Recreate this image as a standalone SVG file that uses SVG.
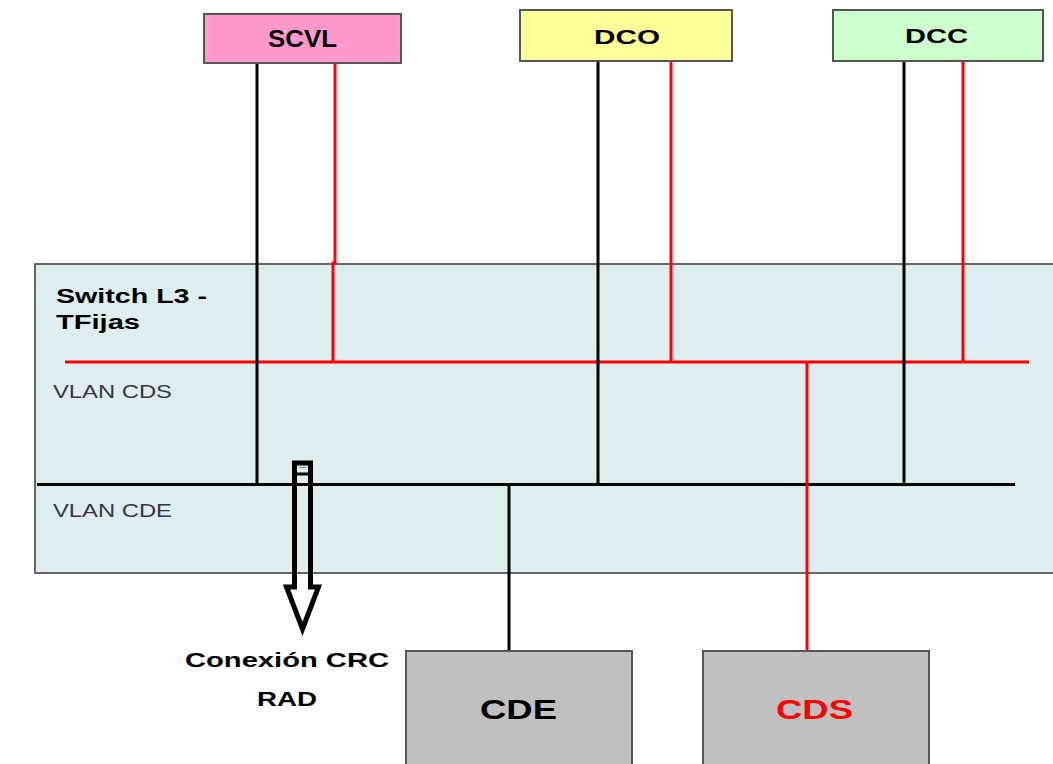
<svg xmlns="http://www.w3.org/2000/svg" width="1053" height="764" viewBox="0 0 1053 764">
<style>
.box{stroke:#555;stroke-width:2}
.t{font-family:"Liberation Sans",Arial,sans-serif;font-weight:bold;fill:#000}
.v{font-family:"Liberation Sans",Arial,sans-serif;font-size:18px;fill:#3a3448}
.blk{stroke:#000;stroke-width:3;fill:none}
.red{stroke:#f00;stroke-width:3;fill:none}
</style>
<rect width="1053" height="764" fill="#fff"/>
<g id="switch">
<rect x="35" y="264" width="1030" height="309" fill="#ddedf0" stroke="#666" stroke-width="2"/>
<text class="t" x="56" y="303" font-size="20" textLength="151" lengthAdjust="spacingAndGlyphs">Switch L3 -</text>
<text class="t" x="56" y="329" font-size="20" textLength="84" lengthAdjust="spacingAndGlyphs">TFijas</text>
<text class="v" x="53" y="398" textLength="119" lengthAdjust="spacingAndGlyphs">VLAN CDS</text>
<text class="v" x="53" y="517" textLength="119" lengthAdjust="spacingAndGlyphs">VLAN CDE</text>
</g>
<g id="connectors">
<line class="red" x1="65" y1="362" x2="1029" y2="362" stroke-width="4"/>
<line class="blk" x1="37" y1="484.5" x2="1015" y2="484.5" stroke-width="4"/>
<line class="blk" x1="257" y1="63" x2="257" y2="484"/>
<polyline class="red" points="335,63 335,263 333,263 333,362"/>
<line class="blk" x1="598" y1="61" x2="598" y2="484"/>
<line class="red" x1="671" y1="61" x2="671" y2="362"/>
<line class="blk" x1="904" y1="61" x2="904" y2="484"/>
<line class="red" x1="963" y1="61" x2="963" y2="362"/>
<line class="red" x1="807" y1="362" x2="807" y2="651" stroke-width="4"/>
<line class="blk" x1="509" y1="484" x2="509" y2="651"/>
</g>
<g id="arrow">
<polygon points="294.5,463 310.5,463 310.5,587 318.5,587 302.5,629 286.5,587 294.5,587" fill="none" stroke="#000" stroke-width="5" stroke-linejoin="miter"/>
<line x1="294" y1="474" x2="311" y2="474" stroke="#000" stroke-width="3"/>
<line x1="299" y1="467.5" x2="306" y2="467.5" stroke="#888" stroke-width="1"/>
</g>
<g id="crc-label">
<text class="t" x="287" y="667" font-size="21" text-anchor="middle" textLength="204" lengthAdjust="spacingAndGlyphs">Conexión CRC</text>
<text class="t" x="287" y="706" font-size="21" text-anchor="middle" textLength="60" lengthAdjust="spacingAndGlyphs">RAD</text>
</g>
<g id="scvl">
<rect class="box" x="204" y="14" width="197" height="49" fill="#ff99cc"/>
<text class="t" x="268" y="47" font-size="23" textLength="69" lengthAdjust="spacingAndGlyphs">SCVL</text>
</g>
<g id="dco">
<rect class="box" x="520" y="10" width="212" height="51" fill="#ffff99"/>
<text class="t" x="594" y="44" font-size="21" textLength="66" lengthAdjust="spacingAndGlyphs">DCO</text>
</g>
<g id="dcc">
<rect class="box" x="833" y="10" width="210" height="51" fill="#ccffcc"/>
<text class="t" x="905" y="43" font-size="21" textLength="63" lengthAdjust="spacingAndGlyphs">DCC</text>
</g>
<g id="cde">
<rect class="box" x="406" y="651" width="226" height="120" fill="#c0c0c0"/>
<text class="t" x="480" y="719" font-size="27" textLength="77" lengthAdjust="spacingAndGlyphs">CDE</text>
</g>
<g id="cds">
<rect class="box" x="703" y="651" width="226" height="120" fill="#c0c0c0"/>
<text class="t" x="776" y="719" font-size="27" fill="#f00" style="fill:#f00" textLength="77" lengthAdjust="spacingAndGlyphs">CDS</text>
</g>
</svg>
